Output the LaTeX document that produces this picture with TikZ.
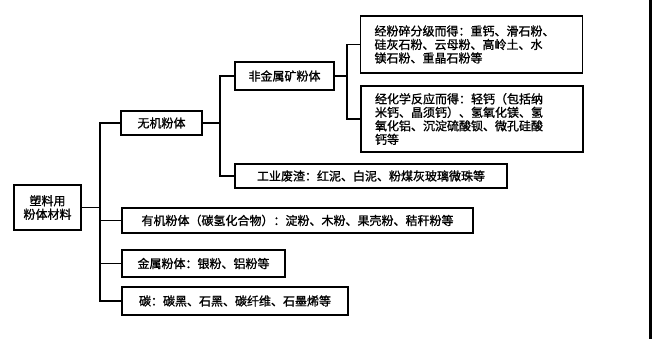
\documentclass[tikz,border=0pt]{standalone}
\usepackage{fontspec}
\usepackage{xcolor}
\usepackage{tikz}
\newfontfamily\cjk[FakeBold=1.2]{Noto Sans CJK SC}

\tikzset{
  box/.style={draw, line width=1.4pt, inner sep=0pt, align=left,
    font=\cjk\fontsize{12}{13.5}\selectfont},
  link/.style={line width=1.1pt},
}

\begin{document}
\begin{tikzpicture}[x=1pt,y=-1pt]
\useasboundingbox (0,0) rectangle (652,339);
\draw[line width=2.5pt] (650.7,0) -- (650.7,339);
% nodes
\node[box, align=center, minimum width=67, minimum height=45] (root) at (47.5,207.5) {塑料用\\粉体材料};
\node[box, minimum width=81, minimum height=24] (wj) at (161.5,123) {无机粉体};
\node[box, minimum width=99, minimum height=28] (fjs) at (284.5,76) {非金属矿粉体};
\node[box, minimum width=222, minimum height=57, text width=194] (jf) at (471.5,44.5) {经粉碎分级而得：重钙、滑石粉、\\硅灰石粉、云母粉、高岭土、水\\镁石粉、重晶石粉等};
\node[box, minimum width=222, minimum height=66, text width=194] (hx) at (472,119) {经化学反应而得：轻钙（包括纳\\米钙、晶须钙）、氢氧化镁、氢\\氧化铝、沉淀硫酸钡、微孔硅酸\\钙等};
\node[box, minimum width=272, minimum height=24] (gy) at (371,176) {工业废渣：红泥、白泥、粉煤灰玻璃微珠等};
\node[box, minimum width=351, minimum height=25] (yj) at (297.5,220.5) {有机粉体（碳氢化合物）：淀粉、木粉、果壳粉、秸秆粉等};
\node[box, minimum width=163, minimum height=27] (js) at (203.5,263.5) {金属粉体：银粉、铝粉等};
\node[box, minimum width=226, minimum height=28] (tan) at (235,301) {碳：碳黑、石黑、碳纤维、石墨烯等};
% connectors
\coordinate (trunk) at (100,0);
\coordinate (br1) at (220,0);
\coordinate (br2) at (347,0);
\draw[link] (root.east) -- (root.east -| trunk);
\draw[link] (wj.west) -| (trunk |- tan.west) -- (tan.west);
\draw[link] (yj.west) -- (yj.west -| trunk);
\draw[link] (js.west) -- (js.west -| trunk);
\draw[link] (wj.east) -- (wj.east -| br1);
\draw[link] (fjs.west) -| (br1 |- gy.west) -- (gy.west);
\draw[link] (fjs.east) -- (fjs.east -| br2);
\draw[link] (jf.west) -| (br2 |- hx.west) -- (hx.west);
\end{tikzpicture}
\end{document}
